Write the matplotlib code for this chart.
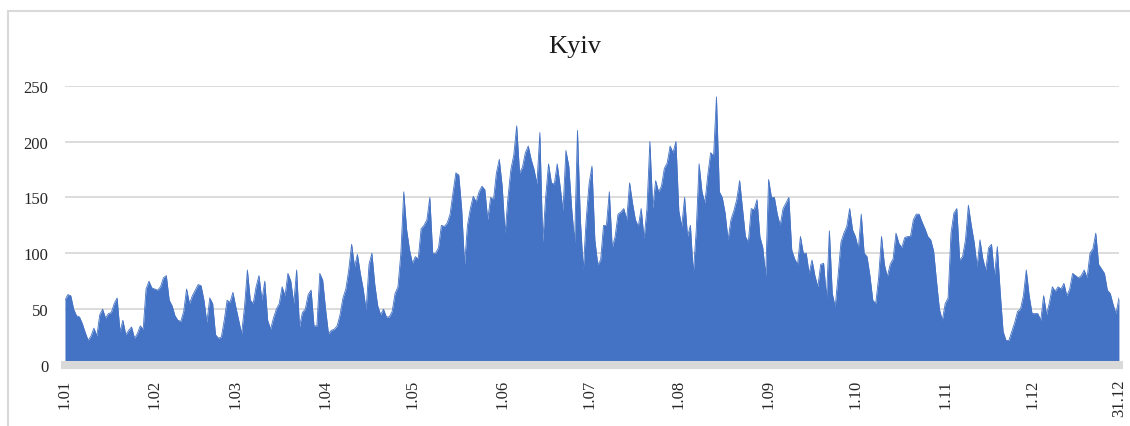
import numpy as np
import matplotlib.pyplot as plt
from matplotlib.patches import Rectangle

# daily values, one list per month
jan = [58, 63, 62, 50, 44, 43, 37, 29, 22, 26, 33, 26, 45, 50, 42, 46, 47, 55, 60, 30,
       40, 27, 31, 34, 24, 28, 35, 32, 68, 75, 69]
feb = [68, 67, 70, 78, 80, 58, 53, 44, 40, 39, 48, 68, 55, 62, 67, 72, 71, 58, 38, 60,
       55, 27, 24, 25, 40, 58, 56, 65]
mar = [52, 40, 28, 52, 85, 58, 55, 70, 80, 58, 75, 40, 32, 42, 50, 55, 70, 62, 82, 75,
       55, 85, 34, 47, 50, 63, 67, 35, 35, 82, 76]
apr = [50, 28, 31, 32, 35, 45, 60, 68, 85, 108, 88, 99, 82, 68, 49, 90, 100, 72, 53, 45,
       50, 43, 43, 48, 64, 70, 100, 155, 121, 103]
may = [91, 97, 95, 122, 125, 130, 150, 100, 100, 105, 125, 124, 127, 135, 154, 172, 170, 140, 90, 125,
       140, 151, 146, 155, 160, 157, 130, 150, 148, 172, 184]
jun = [160, 118, 150, 175, 188, 214, 172, 177, 190, 196, 184, 175, 162, 208, 110, 150, 180, 163, 162, 180,
       160, 138, 192, 178, 140, 110, 210, 130, 85, 130]
jul = [162, 178, 112, 90, 94, 125, 125, 155, 105, 115, 135, 137, 140, 130, 163, 145, 130, 124, 140, 113,
       140, 200, 140, 165, 155, 160, 176, 181, 196, 190, 200]
aug = [138, 124, 150, 115, 125, 82, 120, 180, 155, 145, 170, 190, 187, 240, 155, 150, 136, 112, 130, 138,
       148, 165, 140, 115, 110, 140, 139, 148, 115, 105, 80]
sep = [166, 150, 150, 135, 125, 140, 145, 150, 103, 95, 90, 115, 100, 100, 82, 94, 80, 70, 90, 91,
       60, 120, 64, 52, 80, 110, 118, 124, 140, 121]
oct_ = [115, 104, 135, 100, 97, 80, 58, 55, 78, 115, 90, 79, 90, 95, 118, 109, 105, 114, 115, 115,
        130, 135, 135, 128, 122, 115, 112, 102, 75, 50, 40]
nov = [55, 60, 118, 136, 140, 94, 97, 112, 143, 125, 110, 88, 112, 95, 85, 105, 108, 80, 106, 65,
       30, 22, 22, 30, 38, 48, 50, 62, 85, 62]
dec = [46, 46, 46, 40, 62, 45, 56, 70, 66, 70, 68, 73, 62, 68, 82, 80, 78, 80, 85, 78,
       100, 104, 118, 90, 86, 82, 67, 64, 54, 46, 60]

month_labels = ['1.01', '1.02', '1.03', '1.04', '1.05', '1.06', '1.07',
                '1.08', '1.09', '1.10', '1.11', '1.12', '31.12']
y_ticks = [0, 50, 100, 150, 200, 250]

months = [jan, feb, mar, apr, may, jun, jul, aug, sep, oct_, nov, dec]
values = np.array(sum(months, []))
days = np.arange(len(values))
month_len = [len(m) for m in months]
tick_pos = np.append(np.cumsum([0] + month_len[:-1]), len(values) - 1)

plt.rcParams['font.family'] = ['Liberation Serif', 'DejaVu Serif']

fig = plt.figure(figsize=(11.3, 4.27), dpi=100)
ax = fig.add_axes([0.0575, 0.1429, 0.9327, 0.654])

ax.fill_between(days, values, 0, color='#4472C4', lw=0, zorder=1)
ax.plot(days, values, color='#4472C4', lw=0.6, zorder=1)

ax.set_xlim(0, len(values) - 1)
ax.set_ylim(0, 250)
ax.set_yticks(y_ticks)
ax.grid(axis='y', color='#d9d9d9', lw=1.3)
ax.set_axisbelow(True)

for s in ['top', 'right', 'left']:
    ax.spines[s].set_visible(False)
ax.spines['bottom'].set_color('#d9d9d9')
ax.spines['bottom'].set_linewidth(5.8)

ax.set_xticks(tick_pos, month_labels, rotation=90)
ax.tick_params(length=0, labelsize=12, labelcolor='#262626')
ax.tick_params(axis='x', pad=10)
ax.tick_params(axis='y', pad=12)

fig.text(0.509, 1 - 53 / 427, 'Kyiv', ha='center', va='baseline', fontsize=19, color='#1a1a1a')

# light outer frame of the chart
fig.patches.append(Rectangle((8 / 1130, -0.05), 1.1, 1 - 12 / 427 + 0.05,
                             transform=fig.transFigure, fill=False,
                             edgecolor='#d9d9d9', lw=1.5))

fig.savefig('out.png')
